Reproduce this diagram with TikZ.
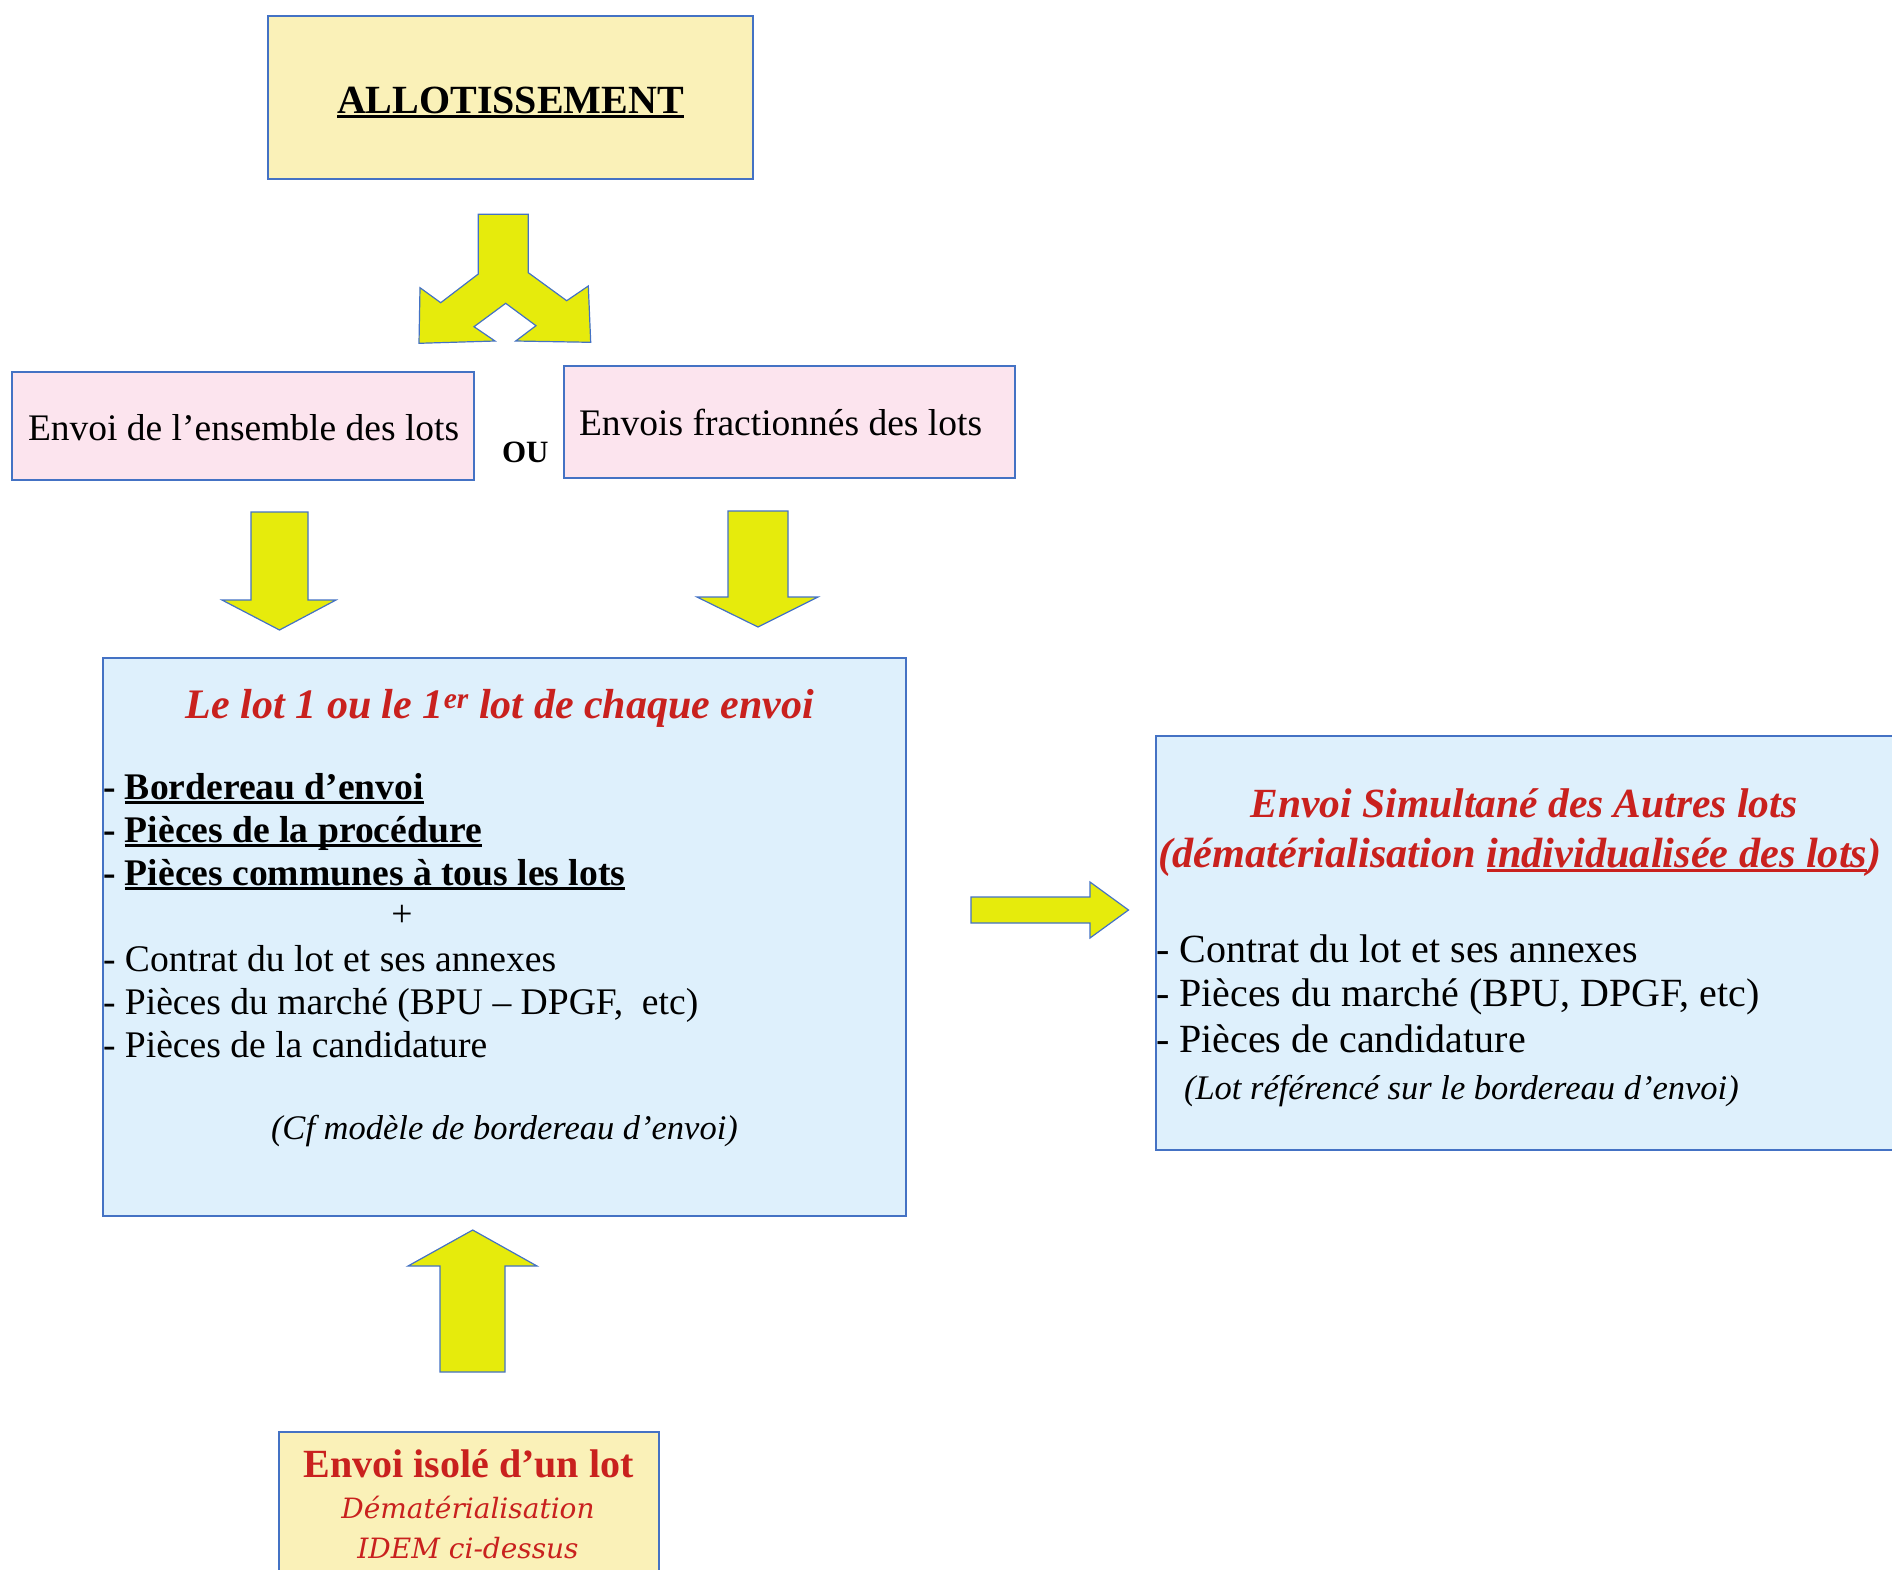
\documentclass[tikz,border=0pt]{standalone}
\usepackage{fontspec}
\setmainfont{Liberation Serif}
\newfontfamily\djserif{DejaVu Serif}
\definecolor{boxyellow}{RGB}{250,241,184}
\definecolor{boxpink}{RGB}{252,228,238}
\definecolor{boxblue}{RGB}{222,240,252}
\definecolor{bordblue}{RGB}{68,114,196}
\definecolor{arrowyellow}{RGB}{230,235,12}
\definecolor{titlered}{RGB}{201,33,30}
\newcommand\setfs[2]{\fontsize{#1}{#2}\selectfont}
\newcommand\ulbox[1]{\leavevmode\setbox0\hbox{#1}\rlap{\rule[-0.12em]{\wd0}{0.065em}}\box0}
\tikzset{
  box/.style={draw=bordblue, line width=1.3pt, inner sep=0pt, outer sep=0pt},
  barrow/.style={fill=arrowyellow, draw=bordblue, line width=1.2pt, line join=miter},
  txt/.style={inner sep=0pt, outer sep=0pt, anchor=base west},
  ctxt/.style={inner sep=0pt, outer sep=0pt, anchor=base},
}
\begin{document}
\begin{tikzpicture}[x=1pt,y=-1pt]
\useasboundingbox (0,0) rectangle (1892,1569);
\clip (0,0) rectangle (1892,1569);
% boxes
\node[box, fill=boxyellow, minimum width=485, minimum height=163] (allot) at (510.5,97.5) {};
\node[box, fill=boxpink, minimum width=462, minimum height=108] (ensemble) at (243,426) {};
\node[box, fill=boxpink, minimum width=451, minimum height=112] (fraction) at (789.5,422) {};
\node[box, fill=boxblue, minimum width=803, minimum height=558] (lotun) at (504.5,937) {};
\node[box, fill=boxblue, minimum width=744, minimum height=414] (autres) at (1528,943) {};
\node[box, fill=boxyellow, minimum width=380, minimum height=168] (isole) at (469,1516) {};
% texts
\node[ctxt] (allottxt) at (510.5,113) {\setfs{40}{48}\bfseries\ulbox{ALLOTISSEMENT}};
\node[txt] (enstxt) at (28,440) {\setfs{37.5}{43}Envoi de l’ensemble des lots};
\node[txt] (fractxt) at (579,435) {\setfs{37.5}{43}Envois fractionnés des lots};
\node[txt] (ou) at (502,462) {\setfs{31}{36}\bfseries OU};
% left blue box
\node[ctxt] (lottitle) at (500,718) {\setfs{42}{50}\bfseries\itshape\color{titlered}Le lot 1 ou le 1\textsuperscript{er} lot de chaque envoi};
\node[txt] (l1) at (103,799) {\setfs{37.6}{43}\bfseries - \ulbox{Bordereau d’envoi}};
\node[txt] (l2) at (103,842) {\setfs{37.6}{43}\bfseries - \ulbox{Pièces de la procédure}};
\node[txt] (l3) at (103,885) {\setfs{37.6}{43}\bfseries - \ulbox{Pièces communes à tous les lots}};
\node[ctxt] (plus) at (402,926) {\setfs{37.6}{43}+};
\node[txt] (l4) at (103,971) {\setfs{37.6}{43}- Contrat du lot et ses annexes};
\node[txt] (l5) at (103,1014) {\setfs{37.6}{43}- Pièces du marché (BPU – DPGF,\ \ etc)};
\node[txt] (l6) at (103,1057) {\setfs{37.6}{43}- Pièces de la candidature};
\node[txt] (cf) at (271,1139) {\setfs{34.5}{40}\itshape (Cf modèle de bordereau d’envoi)};
% right blue box
\node[ctxt] (autitle1) at (1524,817) {\setfs{41.5}{50}\bfseries\itshape\color{titlered}Envoi Simultané des Autres lots};
\node[ctxt] (autitle2) at (1520,867) {\setfs{42.3}{50}\bfseries\itshape\color{titlered}(dématérialisation \ulbox{individualisée des lots})};
\node[txt] (r1) at (1156,962) {\setfs{40}{45}- Contrat du lot et ses annexes};
\node[txt] (r2) at (1156,1006) {\setfs{40}{45}- Pièces du marché (BPU, DPGF, etc)};
\node[txt] (r3) at (1156,1052) {\setfs{40}{45}- Pièces de candidature};
\node[txt] (lotref) at (1184,1099) {\setfs{34.5}{40}\itshape (Lot référencé sur le bordereau d’envoi)};
% bottom box
\node[ctxt] (is1) at (468.5,1477) {\setfs{40}{46}\bfseries\color{titlered}Envoi isolé d’un lot};
\node[ctxt] (is2) at (468,1518) {\setfs{28}{34}\djserif\itshape\color{titlered}Dématérialisation};
\node[ctxt] (is3) at (468,1558) {\setfs{28}{34}\djserif\itshape\color{titlered}IDEM ci-dessus};
% block arrows
\draw[barrow] (478.3,214.3) -- (528.3,214.3) -- (528.3,272.7) -- (566.7,300.7) -- (588.3,286)
  -- (590.7,342.3) -- (515.7,341) -- (536,325.7) -- (505.7,303.3) -- (474,326.7) -- (495,341)
  -- (419,343.3) -- (420,287.7) -- (440.7,302.7) -- (478.3,274) -- cycle;
\draw[barrow] (251,512) -- (308,512) -- (308,600) -- (336,600) -- (279.5,630) -- (222,600) -- (251,600) -- cycle;
\draw[barrow] (728,511) -- (788,511) -- (788,597) -- (818,597) -- (758,627) -- (697,597) -- (728,597) -- cycle;
\draw[barrow] (971,897) -- (1090,897) -- (1090,882) -- (1128.5,910) -- (1090,938) -- (1090,923) -- (971,923) -- cycle;
\draw[barrow] (440,1372) -- (440,1266) -- (408,1266) -- (472.7,1230) -- (537,1266) -- (505,1266) -- (505,1372) -- cycle;
\end{tikzpicture}
\end{document}
